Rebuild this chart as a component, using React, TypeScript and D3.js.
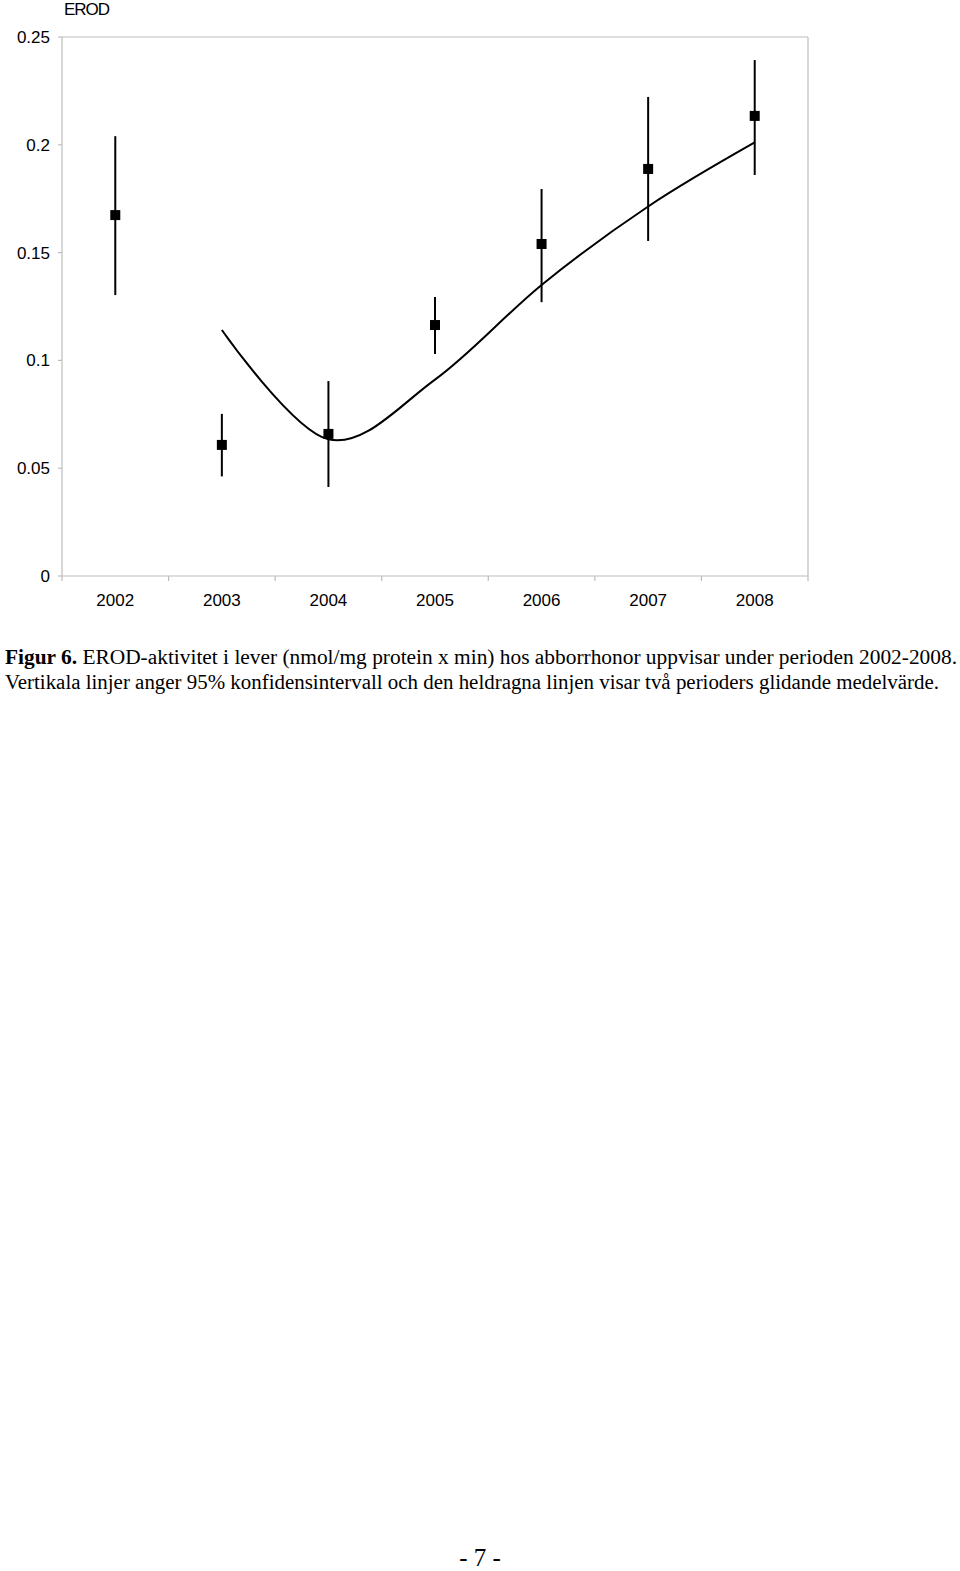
import React from "react";
import * as d3 from "d3";

const years = ["2002", "2003", "2004", "2005", "2006", "2007", "2008"];
const means = [0.1674, 0.0608, 0.0659, 0.1164, 0.154, 0.1888, 0.2134];
const upper = [0.204, 0.0752, 0.0904, 0.1294, 0.1795, 0.2222, 0.2393];
const lower = [0.1303, 0.0462, 0.0413, 0.103, 0.127, 0.1554, 0.186];
const avgYears = ["2003", "2004", "2005", "2006", "2007", "2008"];
const movingAvg = [0.1141, 0.0634, 0.0911, 0.135, 0.1714, 0.2011];
const yTicks = [0, 0.05, 0.1, 0.15, 0.2, 0.25];
const yTickLabels = ["0", "0.05", "0.1", "0.15", "0.2", "0.25"];

const captionBold = "Figur 6.";
const captionLine1 =
  " EROD-aktivitet i lever (nmol/mg protein x min) hos abborrhonor uppvisar under perioden 2002-2008.";
const captionLine2 =
  "Vertikala linjer anger 95% konfidensintervall och den heldragna linjen visar två perioders glidande medelvärde.";

export default function App() {
  const left = 62;
  const right = 808;
  const top = 37;
  const bottom = 576;
  const x = d3.scaleBand<string>().domain(years).range([left, right]);
  const cx = (yr: string) => (x(yr) as number) + x.bandwidth() / 2;
  const y = d3.scaleLinear().domain([0, 0.25]).range([bottom, top]);
  const axisColor = "#bdbdbd";
  const line = d3
    .line<number>()
    .x((_, i) => cx(avgYears[i]))
    .y((d) => y(d))
    .curve(d3.curveCatmullRom.alpha(0));
  const sans = "'Liberation Sans', Arial, sans-serif";
  const serif = "'Liberation Serif', 'Times New Roman', serif";
  return (
    <svg
      width={960}
      height={1571}
      style={{ position: "absolute", left: 0, top: 0, background: "#fff" }}
    >
      <rect x={0} y={0} width={960} height={1571} fill="#fff" />
      <line x1={left} x2={right} y1={top} y2={top} stroke={axisColor} strokeWidth={1.2} />
      <line x1={right} x2={right} y1={top} y2={bottom} stroke={axisColor} strokeWidth={1.2} />
      <line x1={left} x2={left} y1={top} y2={bottom} stroke={axisColor} strokeWidth={1.2} />
      <line x1={left} x2={right} y1={bottom} y2={bottom} stroke={axisColor} strokeWidth={1.2} />
      {yTicks.map((t, i) => (
        <g key={"yt" + i}>
          <line x1={left - 4} x2={left} y1={y(t)} y2={y(t)} stroke={axisColor} strokeWidth={1.2} />
          <text
            x={50}
            y={y(t)}
            dy="0.35em"
            textAnchor="end"
            fontFamily={sans}
            fontSize={17}
            fill="#000"
          >
            {yTickLabels[i]}
          </text>
        </g>
      ))}
      {years.map((yr, i) => (
        <line
          key={"xt" + i}
          x1={x(yr) as number}
          x2={x(yr) as number}
          y1={bottom}
          y2={bottom + 5}
          stroke={axisColor}
          strokeWidth={1.2}
        />
      ))}
      <line x1={right} x2={right} y1={bottom} y2={bottom + 5} stroke={axisColor} strokeWidth={1.2} />
      {years.map((yr) => (
        <text
          key={"xl" + yr}
          x={cx(yr)}
          y={606}
          textAnchor="middle"
          fontFamily={sans}
          fontSize={17}
          fill="#000"
        >
          {yr}
        </text>
      ))}
      <text x={64} y={15} fontFamily={sans} fontSize={17} letterSpacing={-1} fill="#000">
        EROD
      </text>
      <path d={line(movingAvg) as string} fill="none" stroke="#000" strokeWidth={2} />
      {years.map((yr, i) => (
        <g key={"p" + yr}>
          <line
            x1={cx(yr)}
            x2={cx(yr)}
            y1={y(upper[i])}
            y2={y(lower[i])}
            stroke="#000"
            strokeWidth={2}
          />
          <rect x={cx(yr) - 5} y={y(means[i]) - 5} width={10} height={10} fill="#000" />
        </g>
      ))}
      <text
        x={5}
        y={664}
        fontFamily={serif}
        fontSize={20}
        fill="#000"
        textLength={952}
        lengthAdjust="spacingAndGlyphs"
      >
        <tspan fontWeight="bold">{captionBold}</tspan>
        <tspan>{captionLine1}</tspan>
      </text>
      <text
        x={5}
        y={689}
        fontFamily={serif}
        fontSize={20}
        fill="#000"
        textLength={934}
        lengthAdjust="spacingAndGlyphs"
      >
        {captionLine2}
      </text>
      <text x={480} y={1566} textAnchor="middle" fontFamily={serif} fontSize={25} fill="#000">
        - 7 -
      </text>
    </svg>
  );
}
